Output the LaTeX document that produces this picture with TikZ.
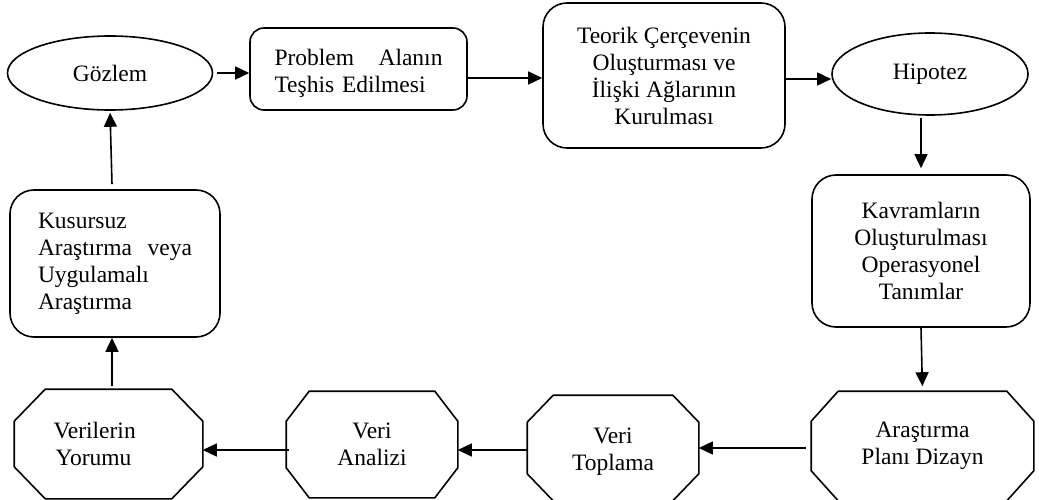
\documentclass[tikz,border=0pt]{standalone}
\usepackage{fontspec}
\setmainfont{Liberation Serif}
\usetikzlibrary{arrows.meta,shapes.geometric,calc}
\tikzset{
  base/.style={font=\fontsize{23.5}{27}\selectfont, inner sep=0pt, line width=1.6pt},
  oval/.style={base, draw, ellipse},
  rbox/.style={base, draw, rectangle, rounded corners=#1},
  oct/.style={base, rectangle},
  arr/.style={line width=1.6pt, -{Triangle[length=14pt,width=13pt]}},
}
\newcommand{\octdraw}[3]{%
  \draw[line width=1.6pt] ([xshift=#2pt]#1.north west) -- ([xshift=-#2pt]#1.north east)
    -- ([yshift=-#3pt]#1.north east) -- ([yshift=#3pt]#1.south east)
    -- ([xshift=-#2pt]#1.south east) -- ([xshift=#2pt]#1.south west)
    -- ([yshift=#3pt]#1.south west) -- ([yshift=-#3pt]#1.north west) -- cycle;}
\begin{document}
\begin{tikzpicture}[x=1pt,y=-1pt]
\useasboundingbox (0,0) rectangle (1039,500);
% top row
\node[oval, minimum width=205pt, minimum height=74pt] (gozlem) at (110,73) {Gözlem};
\node[rbox=14pt, minimum width=217pt, minimum height=82pt, text width=168pt, align=left] (problem) at (358.5,69) {\rule{0pt}{26pt}\makebox[168pt][s]{Problem\hfill Alanın}\\Teşhis Edilmesi};
\node[rbox=24pt, minimum width=242pt, minimum height=145pt, align=center] (teorik) at (664,75.5) {Teorik Çerçevenin\\Oluşturması ve\\İlişki Ağlarının\\Kurulması};
\node[oval, minimum width=196pt, minimum height=82pt] (hipotez) at (930,74) {Hipotez};
% right
\node[rbox=24pt, minimum width=218pt, minimum height=152pt, align=center] (kavram) at (921,251) {Kavramların\\Oluşturulması\\Operasyonel\\Tanımlar};
% left
\node[rbox=24pt, minimum width=210pt, minimum height=147pt, text width=154pt, align=left] (kusursuz) at (115,263.5) {Kusursuz\\\makebox[154pt][s]{Araştırma\hfill veya}\\Uygulamalı\\Araştırma};
% bottom row (octagons)
\node[oct, minimum width=221pt, minimum height=108pt, align=center] (arastirma) at (922.5,446) {Araştırma\\Planı Dizayn};
\octdraw{arastirma}{27}{30}
\node[oct, minimum width=170pt, minimum height=104pt, align=center] (toplama) at (613,448) {\rule{0pt}{23pt}Veri\\Toplama};
\octdraw{toplama}{26}{27}
\node[oct, minimum width=170pt, minimum height=105pt, align=center] (analiz) at (372,444.5) {Veri\\Analizi};
\octdraw{analiz}{23}{30}
\node[oct, minimum width=187pt, minimum height=108pt, text width=110pt, align=left] (yorum) at (108.5,444) {Verilerin\\\hspace*{2pt}Yorumu};
\octdraw{yorum}{31}{32}
% connectors
\draw[arr, shorten <=4pt] (gozlem.east) -- (gozlem.east -| problem.west);
\draw[arr] ([yshift=-9pt]problem.east) -- ([yshift=-9pt]problem.east -| teorik.west);
\draw[arr] ([yshift=-3.5pt]teorik.east) -- ([yshift=-3.5pt]teorik.east -| hipotez.west);
\draw[arr, shorten <=2pt, shorten >=6pt] (kavram.north |- hipotez.south) -- (kavram.north);
\draw[arr, shorten >=5pt] (kavram.south) -- (arastirma.north);
\draw[arr, shorten <=5pt] ([yshift=-2pt]arastirma.west) -- ([yshift=-2pt]arastirma.west -| toplama.east);
\draw[arr] ([yshift=-2pt]toplama.west) -- ([yshift=-2pt]toplama.west -| analiz.east);
\draw[arr, shorten <=-3pt] ([yshift=-5.5pt]analiz.west) -- ([yshift=-5.5pt]analiz.west -| yorum.east);
\draw[arr, shorten <=3pt] ([xshift=-3pt]kusursuz.south |- yorum.north) -- ([xshift=-3pt]kusursuz.south);
\draw[arr, shorten >=2pt] ([xshift=-3pt,yshift=5pt]kusursuz.north) -- (gozlem.south);
\end{tikzpicture}
\end{document}
